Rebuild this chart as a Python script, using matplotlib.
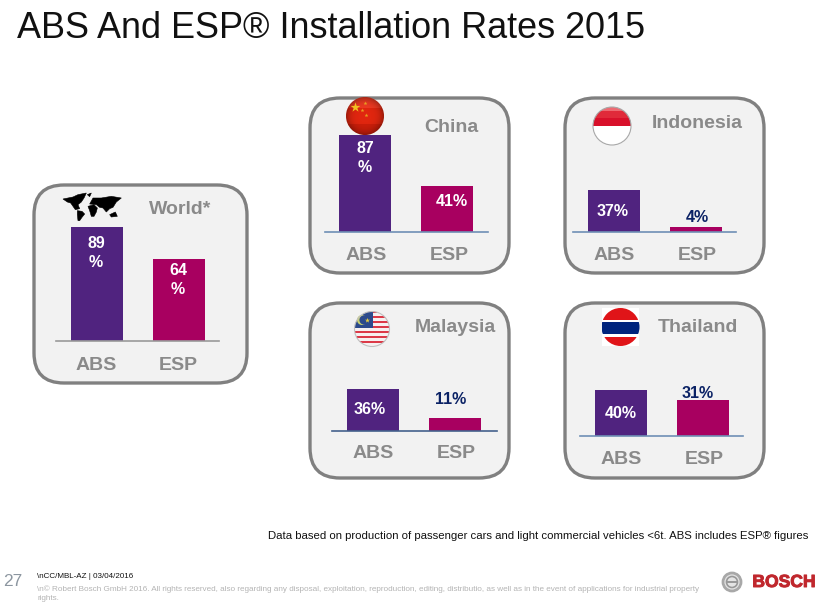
import numpy as np
import matplotlib
matplotlib.use("Agg")
import matplotlib.pyplot as plt
import matplotlib.patheffects as pe
from matplotlib.patches import FancyBboxPatch, Circle, Polygon, Rectangle

plt.rcParams["font.family"] = ["Liberation Sans", "DejaVu Sans"]

W, H = 827, 609

# data
regions = ["World*", "China", "Indonesia", "Malaysia", "Thailand"]
categories = ["ABS", "ESP"]
abs_rate = [89, 87, 37, 36, 40]
esp_rate = [64, 41, 4, 11, 31]
abs_labels = ["89\n%", "87\n%", "37%", "36%", "40%"]
esp_labels = ["64\n%", "41%", "4%", "11%", "31%"]

PURPLE = "#50237f"
MAGENTA = "#a80060"
GREY = "#8a8a8a"
NAVY = "#0b2265"

# panel box, baseline left/right/y, first bar centre, px per percent, title centre
layout = {
    "World*": dict(box=(34, 185, 247, 383), base=(56, 219, 340.5), c0=97, ppu=1.27,
                   title=(180, 209), cat_y=365, cats=(96, 178), line="#9a9a9a"),
    "China": dict(box=(310, 98, 509, 273), base=(325, 488, 232), c0=365, ppu=1.12,
                  title=(451, 127), cat_y=255, cats=(366, 449), line="#6f8fb5"),
    "Indonesia": dict(box=(565, 98, 764, 273), base=(573, 736, 232), c0=614, ppu=1.135,
                      title=(697, 123), cat_y=255, cats=(614, 697), line="#6f8fb5"),
    "Malaysia": dict(box=(310, 303, 509, 478), base=(332, 497, 430.5), c0=373, ppu=1.165,
                     title=(455, 327), cat_y=454, cats=(373, 456), line="#44618c"),
    "Thailand": dict(box=(565, 303, 764, 478), base=(580, 743, 436), c0=621, ppu=1.15,
                     title=(698, 327), cat_y=460, cats=(621, 704), line="#6f8fb5"),
}
# value label centres in pixels
abs_pos = [(96, 253), (365, 158), (613, 212), (370, 410), (621, 414)]
esp_pos = [(178, 280), (452, 201), (697, 218), (451, 400), (698, 394)]
abs_col = ["white"] * 5
esp_col = ["white", "white", NAVY, NAVY, NAVY]

fig = plt.figure(figsize=(W / 100, H / 100), dpi=100)
bg = fig.add_axes([0, 0, 1, 1])
bg.set_xlim(0, W)
bg.set_ylim(H, 0)
bg.axis("off")

fig.text(17 / W, 1 - 28 / H, "ABS And ESP® Installation Rates 2015", fontsize=25.9,
         color="#111111", va="center", ha="left")

for i, name in enumerate(regions):
    p = layout[name]
    x0, y0, x1, y1 = p["box"]
    bg.add_patch(FancyBboxPatch((x0 + 30, y0 + 30), x1 - x0 - 60, y1 - y0 - 60,
                                boxstyle="round,pad=30,rounding_size=30",
                                fc="#f2f2f2", ec="#808080", lw=2.4, zorder=1))
    left, right, base_y = p["base"]
    # axes bottom sits on the baseline, one percent = ppu pixels
    ax_h = 115
    ax = fig.add_axes([left / W, 1 - base_y / H, (right - left) / W, ax_h / H], zorder=2)
    ax.patch.set_alpha(0)
    ax.set_xlim((left - p["c0"]) / 82, (right - p["c0"]) / 82)
    ax.set_ylim(0, ax_h / p["ppu"])
    ax.bar([0, 1], [abs_rate[i], esp_rate[i]], width=52 / 82, color=[PURPLE, MAGENTA])
    for s in ["top", "left", "right"]:
        ax.spines[s].set_visible(False)
    ax.spines["bottom"].set_color(p["line"])
    ax.spines["bottom"].set_linewidth(1.2)
    ax.set_xticks([])
    ax.set_yticks([])

    bg.text(p["title"][0], p["title"][1], name, fontsize=14, fontweight="bold", color=GREY,
            ha="center", va="center", zorder=3)
    for cx, cat in zip(p["cats"], categories):
        bg.text(cx, p["cat_y"], cat, fontsize=14, fontweight="bold", color=GREY,
                ha="center", va="center", zorder=3)

lab = fig.add_axes([0, 0, 1, 1], zorder=5)
lab.set_xlim(0, W)
lab.set_ylim(H, 0)
lab.axis("off")
for i in range(len(regions)):
    lab.text(*abs_pos[i], abs_labels[i], fontsize=11.5, fontweight="bold", color=abs_col[i],
             ha="center", va="center", linespacing=1.35)
    lab.text(*esp_pos[i], esp_labels[i], fontsize=11.5, fontweight="bold", color=esp_col[i],
             ha="center", va="center", linespacing=1.35)


def rgb(hex_col):
    return matplotlib.colors.to_rgb(hex_col)


def ball(cx, cy, r, rows, ring=None, shaded=True):
    # horizontal colour bands clipped to a circle, with a soft shade on top
    im = lab.imshow(np.array(rows)[:, None, :], extent=(cx - r, cx + r, cy + r, cy - r),
                    aspect="auto", interpolation="nearest", zorder=6)
    im.set_clip_path(Circle((cx, cy), r, transform=lab.transData))
    if shaded:
        yy, xx = np.mgrid[-1:1:60j, -1:1:60j]
        shade = np.zeros((60, 60, 4))
        shade[..., 3] = np.clip(np.hypot(xx, yy) ** 4 * 0.3, 0, 0.3)
        sh = lab.imshow(shade, extent=(cx - r, cx + r, cy + r, cy - r), aspect="auto", zorder=7)
        sh.set_clip_path(Circle((cx, cy), r, transform=lab.transData))
    if ring:
        lab.add_patch(Circle((cx, cy), r, fc="none", ec=ring, lw=0.8, zorder=8))


# China
ball(365, 116, 19, [rgb("#ee3a22")] * 6 + [rgb("#e0260f")] * 8 + [rgb("#cc1e0a")] * 6)
lab.scatter([355], [107], marker="*", s=55, c="#f0c020", zorder=9, lw=0)
lab.scatter([365, 366, 362], [103, 115, 110], marker="*", s=9, c="#e8a020", zorder=9, lw=0)

# Indonesia
ball(612, 126, 19, [rgb("#ee6a72")] * 2 + [rgb("#e02a3a")] * 3 + [rgb("#d8102a")] * 4
     + [rgb("#ffffff")] * 9, ring="#a8a8a8", shaded=False)

# Malaysia
stripes = []
for k in range(14):
    stripes += [rgb("#dc3a48") if k % 2 == 0 else rgb("#f6f0f0")]
ball(372, 329, 17.5, stripes, ring="#c0c0c0", shaded=False)
canton = Rectangle((354, 311), 19, 17, fc="#2c4a8c", zorder=6.5)
lab.add_patch(canton)
canton.set_clip_path(Circle((372, 329), 17.5, transform=lab.transData))
lab.add_patch(Circle((362, 320), 5, fc="#c8d070", ec="none", zorder=6.6))
lab.add_patch(Circle((364, 320), 4.6, fc="#2c4a8c", ec="none", zorder=6.7))
lab.scatter([367], [320], marker="*", s=14, c="#e8d040", zorder=6.8, lw=0)

# Thailand
lab.add_patch(Rectangle((602, 308), 37, 38, fc="white", ec="none", zorder=5.5))
ball(620.5, 327, 19, [rgb("#e01418")] * 12 + [rgb("#ffffff")] * 2 + [rgb("#00247d")] * 12
     + [rgb("#ffffff")] * 3 + [rgb("#e01418")] * 9, shaded=False)

# rough world map icon, outlines in crop coordinates (3x, from 58,188)
land = [
    [(15, 33), (45, 27), (60, 20), (85, 15), (78, 30), (70, 42), (60, 50), (65, 62), (52, 65),
     (45, 55), (38, 45), (28, 42)],
    [(58, 68), (72, 70), (80, 78), (72, 88), (65, 98), (60, 98), (58, 80)],
    [(90, 55), (108, 50), (118, 60), (115, 72), (108, 85), (100, 85), (95, 68)],
    [(95, 48), (105, 30), (130, 30), (160, 25), (190, 30), (175, 42), (165, 58), (155, 62),
     (145, 72), (135, 60), (125, 58), (115, 50)],
    [(155, 80), (172, 72), (178, 85), (160, 87)],
    [(88, 20), (100, 15), (95, 26)],
]
for pts in land:
    xy = [(58 + a / 3, 188 + b / 3) for a, b in pts]
    lab.add_patch(Polygon(xy, closed=True, fc="black", ec="black", lw=0.4, zorder=6))

# footnote and footer
lab.text(268, 536, "Data based on production of passenger cars and light commercial vehicles <6t. ABS includes ESP® figures",
         fontsize=8.2, color="#111111", va="center", ha="left")
lab.text(3, 581, "27", fontsize=12.5, color="#8c96a0", va="center", ha="left")
lab.text(37, 577, r"\nCC/MBL-AZ | 03/04/2016", fontsize=5.8, color="#111111", va="center", ha="left")
lab.text(37, 589, r"\n© Robert Bosch GmbH 2016. All rights reserved, also regarding any disposal, exploitation, reproduction, editing, distributio, as well as in the event of applications for industrial property",
         fontsize=5.85, color="#b4b4b4", va="center", ha="left")
lab.text(37, 599, "rights.", fontsize=5.85, color="#b4b4b4", va="center", ha="left")

# logo
lab.add_patch(Circle((732, 582), 9, fc="#e4e4e4", ec="#a8a8a8", lw=2.0, zorder=6))
lab.add_patch(Circle((732, 582), 5.5, fc="none", ec="#989898", lw=1.2, zorder=7))
lab.plot([727.5, 736.5], [582, 582], color="#989898", lw=1.4, zorder=7)
lab.text(784, 582.5, "BOSCH", fontsize=12.6, fontweight="bold", color="#c0272d", ha="center", va="center",
         path_effects=[pe.withStroke(linewidth=0.7, foreground="#c0272d")])

fig.savefig("out.png", dpi=100)
